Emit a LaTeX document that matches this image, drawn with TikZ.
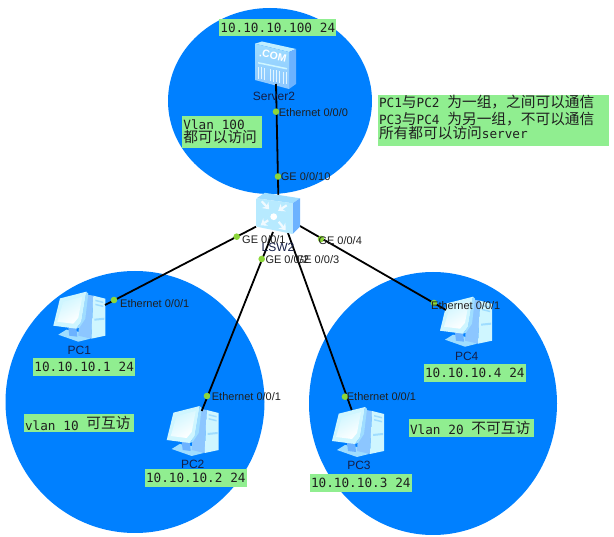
\documentclass[tikz,border=0pt]{standalone}
\usepackage{fontspec}
\setmainfont{Liberation Sans}
\newfontfamily\monof{DejaVu Sans Mono}
\newfontfamily\cjkf{Noto Sans CJK SC}
\newcommand{\zh}[1]{{\cjkf\fontsize{14.7}{17}\selectfont #1}}
\newcommand{\zhup}[1]{\raisebox{1.2pt}{\zh{#1}}}
\newcommand{\msp}{\kern7.8pt\relax}
\newcommand{\fwc}{\char"FF0C\relax}
\usetikzlibrary{arrows.meta}
\definecolor{zoneblue}{HTML}{0080FF}
\definecolor{notegreen}{HTML}{90EE90}
\definecolor{portgreen}{HTML}{8CD63A}
\definecolor{iconpale}{HTML}{CFF6FF}
\definecolor{iconmid}{HTML}{9FDDFF}
\definecolor{icondark}{HTML}{6CB2FF}
\definecolor{iconbody}{HTML}{8CC6FF}
\definecolor{devtext}{HTML}{141E46}
\tikzset{
  zone/.style={fill=zoneblue,draw=none},
  note/.style={fill=notegreen,anchor=north west,inner xsep=1.5pt,inner ysep=0pt,align=left,font=\monof\fontsize{12.7}{14}\selectfont,text=black!88},
  portlabel/.style={anchor=west,inner sep=0pt,font=\fontsize{11}{12}\selectfont,text=black!88},
  devlabel/.style={inner sep=0pt,font=\fontsize{12}{13}\selectfont,text=devtext},
  port/.style={circle,fill=portgreen,minimum size=6.6pt,inner sep=0pt},
  link/.style={draw=black,line width=1.8pt},
  swarrow/.style={white!85!iconmid,line width=2.2pt,-{Stealth[length=6pt,width=9pt]}},
  pcicon/.pic={
    \fill[iconmid] (5,43) -- (13,38) -- (25,40) -- (37,47) -- (25,50) -- cycle;
    \fill[icondark] (15,36) -- (23,35) -- (24,45) -- (16,44) -- cycle;
    \fill[iconbody] (28,2) -- (40,4) -- (38,47) -- (25,44) -- cycle;
    \fill[iconpale] (40,4) -- (52,7) -- (52,44) -- (38,47) -- cycle;
    \fill[iconmid] (42,8) -- (50,10) -- (50,11.5) -- (42,9.5) -- cycle;
    \fill[iconmid] (42,12) -- (50,14) -- (50,15.5) -- (42,13.5) -- cycle;
    \fill[iconmid] (41,27) -- (51,26) -- (51,28) -- (41,29) -- cycle;
    \fill[iconpale] (0,34) -- (6.7,6.7) -- (33,0) -- (28,30) -- (23,37) -- cycle;
    \fill[iconmid] (33,0) -- (28,30) -- (23,37) -- (26,36) -- (32,27) -- (35,2) -- cycle;
    \shade[left color=iconpale,right color=white,shading angle=30] (4,30) -- (10,10) -- (29,5) -- (25,26) -- (20,32) -- cycle;
  },
  servericon/.pic={
    \fill[iconpale!70!iconmid] (0,1.7) -- (7,-0.5) -- (41,7) -- (34,10) -- cycle;
    \fill[icondark] (34,10) -- (41,7) -- (41,42) -- (34,47) -- cycle;
    \shade[top color=iconmid,bottom color=iconbody] (0,1.7) -- (34,10) -- (34,47) -- (0,38) -- cycle;
    \fill[iconpale] (3,20) -- (32,26) -- (32,27.5) -- (3,21.5) -- cycle;
    \foreach \i in {3,6,9,15,18,21,24,28,31}{\fill[white!70!iconmid] ({\i},{24+\i*0.2}) rectangle ({\i+1.3},{36+\i*0.2});}
    \node[inner sep=0pt,text=white,font=\bfseries\fontsize{10.5}{11}\selectfont,rotate=-12] at (18,13.7) {.COM};
  },
  switchicon/.pic={
    \fill[iconmid] (0,0) -- (8,-5.5) -- (43.3,0) -- (36,5) -- cycle;
    \fill[icondark] (36,5) -- (43.3,0) -- (43.3,28.4) -- (36,35.7) -- cycle;
    \shade[top color=iconpale!50!iconmid,bottom color=iconpale!50!iconmid] (0,0) -- (36,5) -- (36,35.7) -- (0,28.4) -- cycle;
    \fill[white] (17,18.4) circle (3.4);
    \draw[swarrow] (5,3) -- (12.5,11);
    \draw[swarrow] (30,7) -- (21.5,12.5);
    \draw[swarrow] (11.5,22) -- (4,27);
    \draw[swarrow] (22,23.5) -- (29,32);
  },
}
\begin{document}
\begin{tikzpicture}[x=1pt,y=-1pt]
\useasboundingbox (0,0) rectangle (614,537);
\fill[white] (0,0) rectangle (614,537);
% zones
\fill[zone] (270,101) ellipse [x radius=102,y radius=93];
\fill[zone] (135,402) ellipse [x radius=129.5,y radius=131];
\fill[zone] (433,403.5) ellipse [x radius=124,y radius=131.5];
% anchors of the connectors
\coordinate (swtop) at (278.3,195);
\coordinate (swleft) at (256,226.7);
\coordinate (swa) at (273,232);
\coordinate (swb) at (288,233);
\coordinate (swright) at (300,226);
\coordinate (srv) at (276,84);
\coordinate (pca) at (105,305);
\coordinate (pcb) at (201.7,411);
\coordinate (pcc) at (351.7,410);
\coordinate (pcd) at (446,310);
% device icons and connectors
\pic at (255,42) {servericon};
\pic at (53.3,291.7) {pcicon};
\pic at (166.7,406) {pcicon};
\pic at (332,407) {pcicon};
\pic at (440,296.7) {pcicon};
\draw[link] (srv) -- (swtop);
\draw[link] (swleft) -- (pca);
\draw[link] (swa) -- (pcb);
\draw[link] (swb) -- (pcc);
\draw[link] (swright) -- (pcd);
\pic at (256.7,198.3) {switchicon};
% ports
\node[port] (p1) at (276,111.7) {};
\node[port] (p2) at (278,176.5) {};
\node[port] (p3) at (236.7,236.7) {};
\node[port] (p4) at (261.7,259) {};
\node[port] (p5) at (321,239) {};
\node[port] (p6) at (114,300) {};
\node[port] (p7) at (207,396) {};
\node[port] (p8) at (345,396.7) {};
\node[port] (p9) at (434,303) {};
% device names
\node[devlabel] (n1) at (274,96.7) {Server2};
\node[devlabel] (n2) at (278,247) {LSW2};
\node[devlabel] (n3) at (79.3,350.7) {PC1};
\node[devlabel] (n4) at (192.7,464.3) {PC2};
\node[devlabel] (n5) at (359,465.7) {PC3};
\node[devlabel] (n6) at (466.7,356) {PC4};
% port labels
\node[portlabel] (l1) at (278.7,112.3) {Ethernet 0/0/0};
\node[portlabel] (l2) at (280.7,176.7) {GE 0/0/10};
\node[portlabel] (l3) at (242,240) {GE 0/0/1};
\node[portlabel] (l4) at (265.3,260) {GE 0/0/2};
\node[portlabel] (l5) at (295.6,260) {GE 0/0/3};
\node[portlabel] (l6) at (318.3,240.7) {GE 0/0/4};
\node[portlabel] (l7) at (120,303.3) {Ethernet 0/0/1};
\node[portlabel] (l8) at (211.7,396.7) {Ethernet 0/0/1};
\node[portlabel] (l9) at (346.7,397) {Ethernet 0/0/1};
\node[portlabel] (l10) at (431,306) {Ethernet 0/0/1};
% notes
\node[note,text width=114.3pt,minimum height=16.7pt] (a1) at (218.7,19) {10.10.10.100\msp 24};
\node[note,text width=77pt,minimum height=32.6pt] (a2) at (181.7,115.7) {Vlan\msp 100\\[-1pt]\zh{都可以访问}};
\node[note,text width=99.3pt,minimum height=17.7pt] (a3) at (32.7,358.3) {10.10.10.1\msp 24};
\node[note,text width=107.7pt,minimum height=17.7pt] (a4) at (23.3,414.3) {vlan\msp 10\msp\zhup{可互访}};
\node[note,text width=99.4pt,minimum height=17.4pt] (a5) at (144.3,469.3) {10.10.10.2\msp 24};
\node[note,text width=99.7pt,minimum height=17.4pt] (a6) at (423.3,364.3) {10.10.10.4\msp 24};
\node[note,text width=122pt,minimum height=17.4pt] (a7) at (408.3,419.3) {Vlan\msp 20\msp\zhup{不可互访}};
\node[note,text width=99.4pt,minimum height=17.4pt] (a8) at (309.3,474.3) {10.10.10.3\msp 24};
\node[note,text width=228.4pt,minimum height=49.3pt,font=\monof\fontsize{12.7}{16}\selectfont] (a9) at (377.3,95) {PC1\zh{与}PC2\msp\zh{为一组\fwc 之间可以通信}\\[1pt]PC3\zh{与}PC4\msp\zh{为另一组\fwc 不可以通信}\\[-2pt]\zh{所有都可以访问}server\\[-9pt]\mbox{}};
\end{tikzpicture}
\end{document}
